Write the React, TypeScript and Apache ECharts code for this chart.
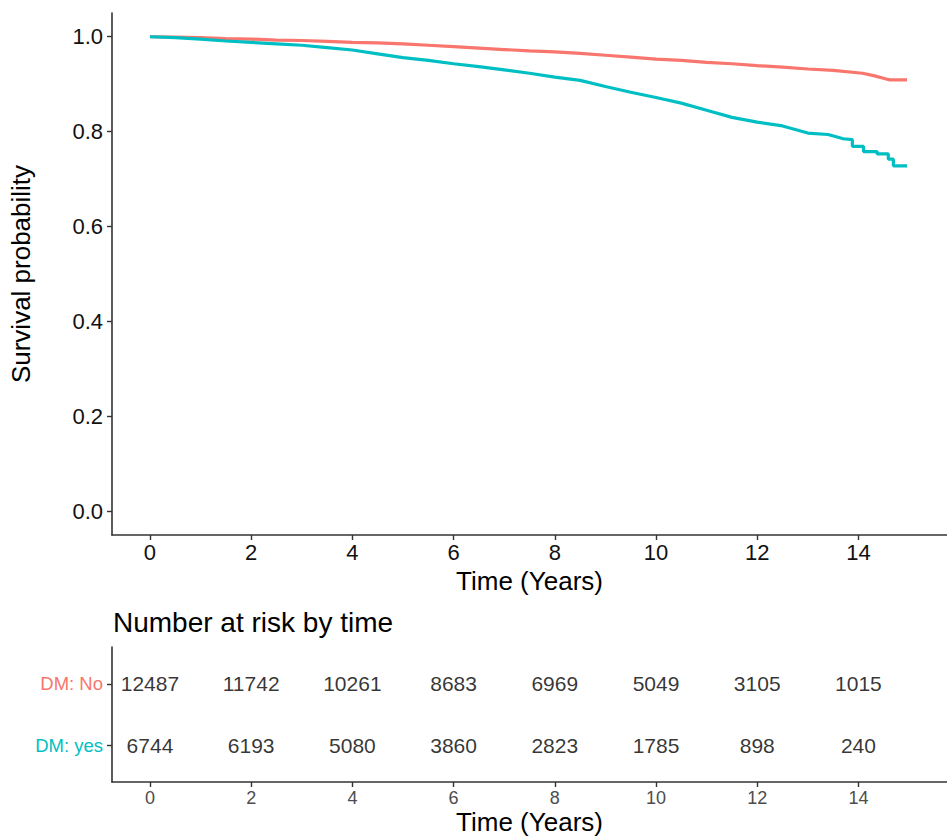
import React, { useEffect, useRef } from "react";
import * as echarts from "echarts";

const redTime = [0, 0.5, 1, 1.5, 2, 2.5, 3, 3.5, 4, 4.5, 5, 5.5, 6, 6.5, 7, 7.5, 8, 8.5, 9, 9.5, 10, 10.5, 11, 11.5, 12, 12.5, 13, 13.5, 14.08, 14.3, 14.55, 14.62, 14.96];
const redSurv = [1.0, 0.999, 0.998, 0.996, 0.995, 0.993, 0.992, 0.99, 0.988, 0.987, 0.985, 0.982, 0.979, 0.976, 0.973, 0.97, 0.968, 0.965, 0.961, 0.957, 0.953, 0.95, 0.946, 0.943, 0.939, 0.936, 0.932, 0.929, 0.923, 0.918, 0.911, 0.909, 0.909];

const cyanTime = [0, 0.5, 1, 1.5, 2, 2.5, 3, 3.5, 4, 4.5, 5, 5.5, 6, 6.5, 7, 7.5, 8, 8.5, 9, 9.5, 10, 10.5, 11, 11.5, 12, 12.5, 13, 13.4, 13.7, 13.88, 13.88, 14.1, 14.1, 14.37, 14.37, 14.59, 14.59, 14.69, 14.69, 14.96];
const cyanSurv = [1.0, 0.998, 0.995, 0.991, 0.988, 0.985, 0.982, 0.977, 0.972, 0.964, 0.956, 0.95, 0.943, 0.937, 0.93, 0.923, 0.915, 0.908, 0.895, 0.883, 0.872, 0.86, 0.845, 0.83, 0.82, 0.812, 0.797, 0.794, 0.785, 0.783, 0.769, 0.769, 0.758, 0.758, 0.753, 0.753, 0.742, 0.742, 0.728, 0.728];

const xTicks = [0, 2, 4, 6, 8, 10, 12, 14];
const yTicks = [0, 0.2, 0.4, 0.6, 0.8, 1.0];
const riskTimes = [0, 2, 4, 6, 8, 10, 12, 14];
const riskNo = [12487, 11742, 10261, 8683, 6969, 5049, 3105, 1015];
const riskYes = [6744, 6193, 5080, 3860, 2823, 1785, 898, 240];
const groupLabels = ["DM: No", "DM: yes"];

const RED = "#F8766D";
const CYAN = "#00BFC4";
const FONT = "Liberation Sans";

export default function App() {
  const ref = useRef<HTMLDivElement>(null);
  useEffect(() => {
    document.body.style.margin = "0";
    const chart = echarts.init(ref.current!, null, { renderer: "svg" });
    const axisLine = { show: true, onZero: false, lineStyle: { color: "#333", width: 1.6 } };
    const tickStyle = { color: "#333", width: 1.4 };
    const redData = redTime.map((t, i) => [t, redSurv[i]]);
    const cyanData = cyanTime.map((t, i) => [t, cyanSurv[i]]);
    const noData = riskTimes.map((t, i) => [t, 2, riskNo[i]]);
    const yesData = riskTimes.map((t, i) => [t, 1, riskYes[i]]);
    const numLabel = {
      show: true, position: "inside", fontSize: 21, color: "#000", fontFamily: FONT,
      textBorderWidth: 0, textBorderColor: "transparent",
      formatter: (p: any) => String(p.value[2]),
    };
    chart.setOption({
      animation: false,
      textStyle: { fontFamily: FONT },
      title: {
        text: "Number at risk by time",
        left: 113,
        top: 608,
        padding: 0,
        textStyle: { fontSize: 28, fontWeight: "normal", color: "#000", fontFamily: FONT },
      },
      grid: [
        { left: 112, top: 13, width: 840, height: 522 },
        { left: 112, top: 647, width: 840, height: 135 },
      ],
      xAxis: [
        {
          type: "value", gridIndex: 0, min: -0.75, max: 15.75,
          axisLine, splitLine: { show: false },
          axisTick: { show: true, length: 5, customValues: xTicks, lineStyle: tickStyle },
          axisLabel: { customValues: xTicks, fontSize: 22, color: "#111", margin: 6, fontFamily: FONT },
          name: "Time (Years)", nameLocation: "middle", nameGap: 29,
          nameTextStyle: { fontSize: 26, color: "#000", fontFamily: FONT },
        },
        {
          type: "value", gridIndex: 1, min: -0.75, max: 15.75,
          axisLine, splitLine: { show: false },
          axisTick: { show: true, length: 5, customValues: xTicks, lineStyle: tickStyle },
          axisLabel: { customValues: xTicks, fontSize: 18, color: "#4d4d4d", margin: 7, fontFamily: FONT },
          name: "Time (Years)", nameLocation: "middle", nameGap: 27,
          nameTextStyle: { fontSize: 26, color: "#000", fontFamily: FONT },
        },
      ],
      yAxis: [
        {
          type: "value", gridIndex: 0, min: -0.05, max: 1.05,
          axisLine, splitLine: { show: false },
          axisTick: { show: true, length: 5, customValues: yTicks, lineStyle: tickStyle },
          axisLabel: { customValues: yTicks, fontSize: 22, color: "#111", margin: 9, fontFamily: FONT, formatter: (v: number) => v.toFixed(1) },
          name: "Survival probability", nameLocation: "middle", nameGap: 78,
          nameTextStyle: { fontSize: 26, color: "#000", fontFamily: FONT },
        },
        {
          type: "value", gridIndex: 1, min: 0.4, max: 2.6,
          axisLine, splitLine: { show: false },
          axisTick: { show: true, length: 5, customValues: [1, 2], lineStyle: tickStyle },
          axisLabel: {
            customValues: [1, 2], fontSize: 18.5, margin: 9, fontFamily: FONT,
            formatter: (v: number) => (v === 2 ? groupLabels[0] : groupLabels[1]),
            color: (v: any) => (Number(v) === 2 ? RED : CYAN),
          },
        },
      ],
      series: [
        {
          type: "line", xAxisIndex: 0, yAxisIndex: 0, data: redData, showSymbol: false,
          lineStyle: { color: RED, width: 3.2 }, itemStyle: { color: RED }, silent: true,
        },
        {
          type: "line", xAxisIndex: 0, yAxisIndex: 0, data: cyanData, showSymbol: false,
          lineStyle: { color: CYAN, width: 3.2 }, itemStyle: { color: CYAN }, silent: true,
        },
        {
          type: "scatter", xAxisIndex: 1, yAxisIndex: 1, data: noData, symbolSize: 1,
          itemStyle: { color: "rgba(0,0,0,0)" }, silent: true, label: numLabel,
        },
        {
          type: "scatter", xAxisIndex: 1, yAxisIndex: 1, data: yesData, symbolSize: 1,
          itemStyle: { color: "rgba(0,0,0,0)" }, silent: true, label: numLabel,
        },
      ],
    });
    return () => chart.dispose();
  }, []);
  return <div ref={ref} style={{ width: 947, height: 840 }} />;
}
